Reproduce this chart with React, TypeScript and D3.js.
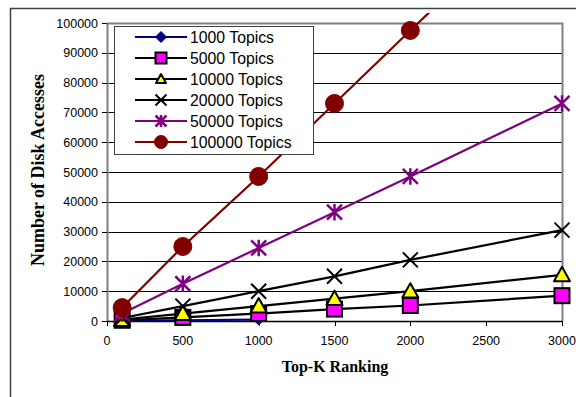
import React from "react";
import * as d3 from "d3";

const xTicks = [0, 500, 1000, 1500, 2000, 2500, 3000];
const yTicks = [0, 10000, 20000, 30000, 40000, 50000, 60000, 70000, 80000, 90000, 100000];

const k1000 = [100, 500, 1000];
const kAll = [100, 500, 1000, 1500, 2000, 3000];

const topics1000 = [150, 250, 500];
const topics5000 = [250, 1200, 2500, 4000, 5200, 8500];
const topics10000 = [500, 2500, 5000, 7500, 10000, 15500];
const topics20000 = [1000, 5000, 10000, 15000, 20500, 30500];
const topics50000 = [2500, 12500, 24500, 36500, 48500, 73000];
const topics100000 = [4500, 25000, 48500, 73000, 97500, 146000];

const seriesNames = ["1000 Topics", "5000 Topics", "10000 Topics", "20000 Topics", "50000 Topics", "100000 Topics"];

type Marker = "diamond" | "square" | "triangle" | "x" | "star" | "circle";

const series = [
  { name: seriesNames[0], xs: k1000, ys: topics1000, color: "#000080", marker: "diamond" as Marker },
  { name: seriesNames[1], xs: kAll, ys: topics5000, color: "#000000", marker: "square" as Marker },
  { name: seriesNames[2], xs: kAll, ys: topics10000, color: "#000000", marker: "triangle" as Marker },
  { name: seriesNames[3], xs: kAll, ys: topics20000, color: "#000000", marker: "x" as Marker },
  { name: seriesNames[4], xs: kAll, ys: topics50000, color: "#800080", marker: "star" as Marker },
  { name: seriesNames[5], xs: kAll, ys: topics100000, color: "#800000", marker: "circle" as Marker },
];

function MarkerShape({ type, cx, cy, s }: { type: Marker; cx: number; cy: number; s: number }) {
  const h = s / 2;
  switch (type) {
    case "diamond":
      return <path d={`M${cx},${cy - h}L${cx + h},${cy}L${cx},${cy + h}L${cx - h},${cy}Z`} fill="#000080" stroke="#000080" strokeWidth={1} />;
    case "square":
      return <rect x={cx - h} y={cy - h} width={s} height={s} fill="#ff00ff" stroke="#000" strokeWidth={2} />;
    case "triangle":
      return <path d={`M${cx},${cy - h}L${cx + h},${cy + h * 0.8}L${cx - h},${cy + h * 0.8}Z`} fill="#ffff00" stroke="#000" strokeWidth={2} strokeLinejoin="round" />;
    case "x":
      return <path d={`M${cx - h},${cy - h}L${cx + h},${cy + h}M${cx - h},${cy + h}L${cx + h},${cy - h}`} stroke="#000" strokeWidth={2} />;
    case "star":
      return (
        <path
          d={`M${cx - h},${cy - h}L${cx + h},${cy + h}M${cx - h},${cy + h}L${cx + h},${cy - h}M${cx},${cy - h * 1.1}L${cx},${cy + h * 1.1}`}
          stroke="#800080"
          strokeWidth={2.5}
        />
      );
    case "circle":
      return <circle cx={cx} cy={cy} r={h} fill="#800000" stroke="#800000" />;
  }
}

const plotMarkerSize: Record<Marker, number> = { diamond: 11, square: 15, triangle: 16, x: 15, star: 15, circle: 18 };
const legendMarkerSize: Record<Marker, number> = { diamond: 11, square: 11, triangle: 10, x: 11, star: 11, circle: 13 };

export default function App() {
  const W = 576;
  const H = 397;
  const left = 107;
  const right = 562;
  const top = 23;
  const bottom = 321;
  const x = d3.scaleLinear().domain([0, 3000]).range([left, right]);
  const y = d3.scaleLinear().domain([0, 100000]).range([bottom, top]);
  const line = d3
    .line<[number, number]>()
    .x((d) => x(d[0]))
    .y((d) => y(d[1]));
  const fmt = d3.format("d");

  return (
    <svg width={W} height={H} style={{ position: "absolute", left: 0, top: 0, background: "#fff" }}>
      <defs>
        <clipPath id="plotclip">
          <rect x={left - 20} y={13} width={right - left + 40} height={bottom - 13 + 20} />
        </clipPath>
      </defs>
      <rect x={0} y={0} width={W} height={H} fill="#fff" />
      {/* outer frame */}
      <path d={`M10.5,${H}L10.5,8.5L${W},8.5`} fill="none" stroke="#404040" strokeWidth={1.5} />

      {/* gridlines */}
      {yTicks.slice(1, -1).map((t) => (
        <line key={t} x1={left} x2={right} y1={Math.round(y(t)) + 0.5} y2={Math.round(y(t)) + 0.5} stroke="#000" strokeWidth={1} />
      ))}
      {/* plot border */}
      <path d={`M${left},${top + 0.5}L${right + 0.5},${top + 0.5}L${right + 0.5},${bottom}`} fill="none" stroke="#808080" strokeWidth={2} />
      {/* y axis */}
      <line x1={left + 0.5} x2={left + 0.5} y1={top} y2={bottom} stroke="#808080" strokeWidth={2} />
      {yTicks.map((t) => (
        <g key={t}>
          <line x1={left - 5} x2={left} y1={Math.round(y(t)) + 0.5} y2={Math.round(y(t)) + 0.5} stroke="#000" />
          <text x={left - 9} y={y(t) + 4.5} textAnchor="end" fontFamily="Liberation Sans, Arial, sans-serif" fontSize={12.5} fill="#000">
            {fmt(t)}
          </text>
        </g>
      ))}
      {/* x axis */}
      <line x1={left} x2={right} y1={bottom + 0.5} y2={bottom + 0.5} stroke="#000" strokeWidth={1.5} />
      {xTicks.map((t) => (
        <g key={t}>
          <line x1={Math.round(x(t)) + 0.5} x2={Math.round(x(t)) + 0.5} y1={bottom} y2={bottom + 5} stroke="#000" />
          <text x={x(t)} y={bottom + 24} textAnchor="middle" fontFamily="Liberation Sans, Arial, sans-serif" fontSize={12.5} fill="#000">
            {t}
          </text>
        </g>
      ))}

      {/* series */}
      <g clipPath="url(#plotclip)">
        {series.map((s) => (
          <g key={s.name}>
            <path d={line(s.xs.map((v, i) => [v, s.ys[i]] as [number, number])) || ""} fill="none" stroke={s.color} strokeWidth={2.2} />
            {s.xs.map((v, i) =>
              s.ys[i] <= 100000 ? <MarkerShape key={i} type={s.marker} cx={x(v)} cy={y(s.ys[i])} s={plotMarkerSize[s.marker]} /> : null
            )}
          </g>
        ))}
      </g>

      {/* axis titles */}
      <text x={335} y={372} textAnchor="middle" fontFamily="Liberation Serif, Times New Roman, serif" fontWeight="bold" fontSize={16} fill="#000">
        Top-K Ranking
      </text>
      <text
        transform={`translate(43.5,170) rotate(-90)`}
        textAnchor="middle"
        fontFamily="Liberation Serif, Times New Roman, serif"
        fontWeight="bold"
        fontSize={18}
        fill="#000"
      >
        Number of Disk Accesses
      </text>

      {/* legend */}
      <rect x={114.5} y={26.5} width={199} height={128} fill="#fff" stroke="#404040" strokeWidth={1} />
      {series.map((s, i) => {
        const cy = 37 + i * 21;
        return (
          <g key={s.name}>
            <line x1={135} x2={187} y1={cy} y2={cy} stroke={s.color} strokeWidth={2.2} />
            <MarkerShape type={s.marker} cx={161} cy={cy} s={legendMarkerSize[s.marker]} />
            <text x={190} y={cy + 5.5} fontFamily="Liberation Sans, Arial, sans-serif" fontSize={15.8} fill="#000">
              {s.name}
            </text>
          </g>
        );
      })}
    </svg>
  );
}
